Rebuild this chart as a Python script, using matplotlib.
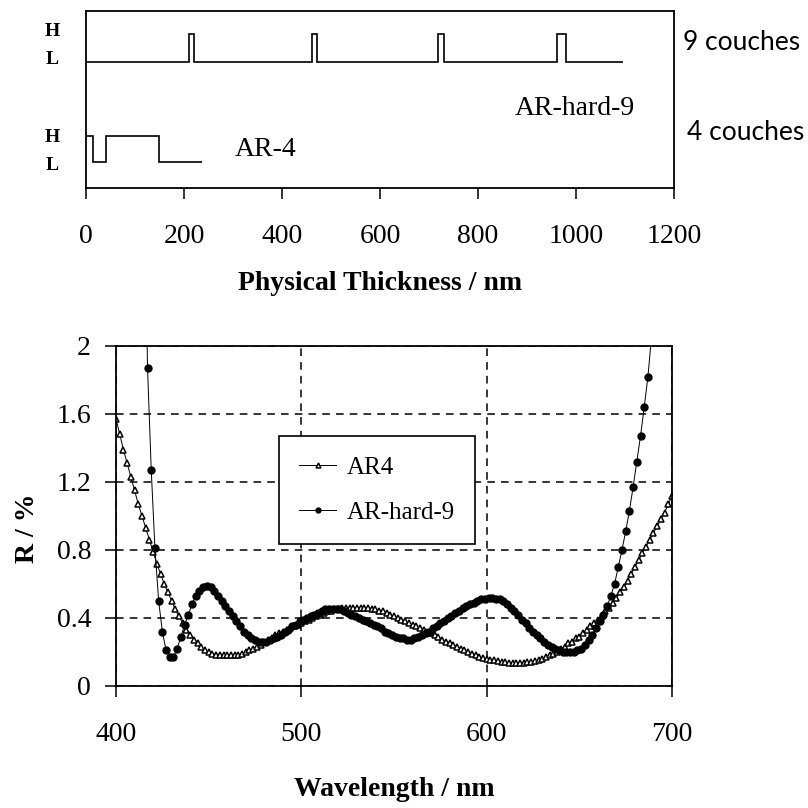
import numpy as np
import matplotlib
matplotlib.use("Agg")
import matplotlib.pyplot as plt

# --- layer stacks (physical thickness in nm, 1 = H, 0 = L) ---
hard9_thick = [211, 10, 240, 11, 247, 11, 231, 19, 117]
hard9_mat = [0, 1, 0, 1, 0, 1, 0, 1, 0]
ar4_thick = [15, 26, 108, 87]
ar4_mat = [1, 0, 1, 0]
thick_ticks = [0, 200, 400, 600, 800, 1000, 1200]

# --- reflectance spectra ---
wl_ar4 = np.arange(400, 701, 2)
r_ar4 = [1.57, 1.48, 1.39, 1.31, 1.23, 1.15, 1.07, 1.00, 0.93, 0.86,
         0.79, 0.72, 0.66, 0.60, 0.55, 0.50, 0.45, 0.41, 0.37, 0.33,
         0.30, 0.27, 0.25, 0.23, 0.21, 0.20, 0.19, 0.185, 0.18, 0.18,
         0.18, 0.18, 0.18, 0.185, 0.19, 0.20, 0.21, 0.22, 0.23, 0.24,
         0.26, 0.27, 0.28, 0.30, 0.31, 0.32, 0.33, 0.34, 0.35, 0.36,
         0.37, 0.38, 0.39, 0.40, 0.41, 0.42, 0.43, 0.44, 0.44, 0.45,
         0.45, 0.46, 0.46, 0.46, 0.46, 0.46, 0.46, 0.46, 0.46, 0.45,
         0.45, 0.44, 0.44, 0.43, 0.42, 0.41, 0.40, 0.39, 0.38, 0.37,
         0.36, 0.35, 0.34, 0.33, 0.32, 0.31, 0.30, 0.29, 0.27, 0.26,
         0.25, 0.24, 0.23, 0.22, 0.21, 0.20, 0.19, 0.18, 0.17, 0.165,
         0.16, 0.155, 0.15, 0.145, 0.14, 0.14, 0.135, 0.135, 0.135, 0.135,
         0.135, 0.14, 0.14, 0.145, 0.15, 0.16, 0.17, 0.18, 0.19, 0.20,
         0.22, 0.23, 0.25, 0.26, 0.28, 0.29, 0.31, 0.33, 0.35, 0.37,
         0.39, 0.41, 0.44, 0.46, 0.49, 0.52, 0.55, 0.58, 0.62, 0.66,
         0.70, 0.74, 0.78, 0.82, 0.86, 0.90, 0.94, 0.98, 1.02, 1.07,
         1.12]

wl_hard9 = np.arange(415, 700, 2)
r_hard9 = [3.20, 1.87, 1.27, 0.81, 0.50, 0.32, 0.21, 0.17, 0.17, 0.22,
           0.29, 0.36, 0.42, 0.48, 0.53, 0.56, 0.58, 0.59, 0.58, 0.56,
           0.53, 0.50, 0.47, 0.44, 0.41, 0.38, 0.35, 0.32, 0.30, 0.28,
           0.27, 0.26, 0.26, 0.26, 0.27, 0.28, 0.29, 0.30, 0.32, 0.33,
           0.35, 0.36, 0.38, 0.39, 0.40, 0.41, 0.42, 0.43, 0.44, 0.45,
           0.45, 0.45, 0.45, 0.45, 0.44, 0.43, 0.42, 0.41, 0.40, 0.39,
           0.38, 0.37, 0.36, 0.35, 0.34, 0.32, 0.31, 0.30, 0.29, 0.28,
           0.28, 0.27, 0.27, 0.28, 0.29, 0.30, 0.31, 0.32, 0.34, 0.35,
           0.37, 0.38, 0.40, 0.41, 0.43, 0.44, 0.46, 0.47, 0.48, 0.49,
           0.50, 0.51, 0.51, 0.52, 0.52, 0.51, 0.51, 0.50, 0.48, 0.46,
           0.44, 0.42, 0.39, 0.37, 0.34, 0.32, 0.30, 0.28, 0.26, 0.24,
           0.23, 0.22, 0.21, 0.20, 0.20, 0.20, 0.20, 0.21, 0.22, 0.24,
           0.27, 0.30, 0.34, 0.38, 0.42, 0.47, 0.53, 0.60, 0.70, 0.80,
           0.91, 1.03, 1.17, 1.32, 1.47, 1.64, 1.82, 2.06, 2.32, 2.60,
           2.90, 3.20, 3.50]

wl_ticks = [400, 500, 600, 700]
r_ticks = [0, 0.4, 0.8, 1.2, 1.6, 2]

plt.rcParams["font.family"] = ["Liberation Serif", "DejaVu Serif"]

fig = plt.figure(figsize=(8.08, 8.08), dpi=100)

# ---------------- top: layer profiles ----------------
ax1 = fig.add_axes([0.1064, 0.7673, 0.7277, 0.2191])
edges9 = np.concatenate([[0], np.cumsum(hard9_thick)])
edges4 = np.concatenate([[0], np.cumsum(ar4_thick)])
ax1.stairs(0.712 + 0.158 * np.array(hard9_mat), edges9, baseline=None,
           color="black", lw=1.2)
ax1.stairs(0.147 + 0.147 * np.array(ar4_mat), edges4, baseline=None,
           color="black", lw=1.2)
ax1.set_xlim(0, 1200)
ax1.set_ylim(0, 1)
ax1.set_yticks([])
ax1.set_xticks(thick_ticks)
ax1.tick_params(axis="x", direction="out", length=8, width=1.1, pad=18,
                labelsize=20)
for sp in ax1.spines.values():
    sp.set_linewidth(1.3)
ax1.text(998, 0.452, "AR-hard-9", fontsize=20, ha="center", va="center")
ax1.text(367, 0.215, "AR-4", fontsize=20, ha="center", va="center")

for txt, ypx in [("H", 32), ("L", 60), ("H", 137), ("L", 166)]:
    fig.text(52 / 808, 1 - ypx / 808, txt, fontsize=14, fontweight="bold",
             ha="center", va="center")

fig.text(683 / 808, 1 - 43 / 808, "9 couches", fontsize=19,
         family=["Lato", "DejaVu Sans"], ha="left", va="center")
fig.text(687 / 808, 1 - 132 / 808, "4 couches", fontsize=19,
         family=["Lato", "DejaVu Sans"], ha="left", va="center")
fig.text(380 / 808, 1 - 284 / 808, "Physical Thickness / nm", fontsize=20,
         fontweight="bold", ha="center", va="center")

# ---------------- bottom: reflectance ----------------
ax2 = fig.add_axes([0.1436, 0.151, 0.6881, 0.4208])
ax2.plot(wl_ar4, r_ar4, color="black", lw=0.7, marker="^", ms=5,
         mfc="white", mec="black", mew=1.1, label="AR4")
ax2.plot(wl_hard9, r_hard9, color="black", lw=0.7, marker="o", ms=5,
         mfc="black", mec="black", label="AR-hard-9")
ax2.set_xlim(400, 700)
ax2.set_ylim(0, 2)
ax2.set_xticks(wl_ticks)
ax2.set_yticks(r_ticks)
ax2.set_yticklabels(["0", "0.4", "0.8", "1.2", "1.6", "2"])
ax2.grid(True, color="black", ls=(0, (5, 4)), lw=1.1)
ax2.set_axisbelow(True)
ax2.tick_params(axis="x", direction="out", length=8, width=1.1, pad=18,
                labelsize=20)
ax2.tick_params(axis="y", direction="out", length=8, width=1.1, pad=10,
                labelsize=20)
for sp in ax2.spines.values():
    sp.set_linewidth(1.3)

leg = ax2.legend(loc="upper left", bbox_to_anchor=(0.293, 0.735),
                 borderaxespad=0, fontsize=18, frameon=True, fancybox=False,
                 framealpha=1, edgecolor="black", handlelength=1.5,
                 handletextpad=0.4, labelspacing=0.9, borderpad=0.8,
                 markerscale=0.7)
leg.get_frame().set_linewidth(1.2)

fig.text(27 / 808, 1 - 528 / 808, "R / %", fontsize=20, fontweight="bold",
         rotation=90, ha="center", va="center")
fig.text(394 / 808, 1 - 790 / 808, "Wavelength / nm", fontsize=20,
         fontweight="bold", ha="center", va="center")

fig.savefig("out.png", dpi=100)
